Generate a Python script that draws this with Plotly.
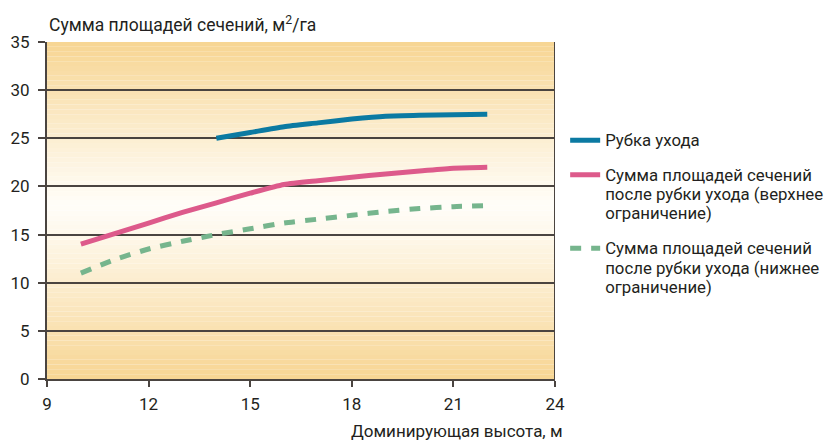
import plotly.graph_objects as go

# Data
x_blue = [14, 15, 16, 17, 18, 19, 20, 21, 22]
y_blue = [25.0, 25.6, 26.2, 26.6, 27.0, 27.3, 27.4, 27.45, 27.5]

x_pink = [10, 11, 12, 13, 14, 15, 16, 17, 18, 19, 20, 21, 22]
y_pink = [14.0, 15.1, 16.2, 17.3, 18.3, 19.3, 20.2, 20.6, 20.95, 21.3, 21.6, 21.9, 22.0]

x_green = [10, 11, 12, 13, 14, 15, 16, 17, 18, 19, 20, 21, 22]
y_green = [11.0, 12.4, 13.5, 14.3, 15.0, 15.6, 16.2, 16.6, 17.0, 17.4, 17.7, 17.9, 18.0]

name_lines = [["Рубка ухода"],
              ["Сумма площадей сечений", "после рубки ухода (верхнее", "ограничение)"],
              ["Сумма площадей сечений", "после рубки ухода (нижнее", "ограничение)"]]

x_ticks = [9, 12, 15, 18, 21, 24]
y_ticks = [0, 5, 10, 15, 20, 25, 30, 35]

FONT = "Roboto"
TXT = "#231f20"
LEG_GLYPH = 16.8


def legend_name(lines):
    return "<br>".join('<span style="font-size:%spx">%s</span>' % (LEG_GLYPH, s) for s in lines)


fig = go.Figure()
fig.add_trace(go.Scatter(x=x_blue, y=y_blue, mode="lines", name=legend_name(name_lines[0]),
                         legendgroup="a",
                         line=dict(color="#0b7aa2", width=5, shape="spline", smoothing=0.6)))
fig.add_trace(go.Scatter(x=x_pink, y=y_pink, mode="lines", name=legend_name(name_lines[1]),
                         legendgroup="b",
                         line=dict(color="#dd5a8b", width=5, shape="spline", smoothing=0.6)))
fig.add_trace(go.Scatter(x=x_green, y=y_green, mode="lines", name=legend_name(name_lines[2]),
                         legendgroup="c",
                         line=dict(color="#76b58d", width=5, dash="11px,10px", shape="spline",
                                   smoothing=0.6)))

# gradient background strips
shapes = []
n = 70
top_c = (247, 213, 146)
mid_c = (255, 253, 248)
center = 18.0
for i in range(n):
    y0 = 35 * i / n
    y1 = 35 * (i + 1) / n
    yc = (y0 + y1) / 2
    if yc < center:
        t = (center - yc) / center
    else:
        t = (yc - center) / (35 - center)
    t = t ** 1.1
    c = tuple(int(round(mid_c[k] + (top_c[k] - mid_c[k]) * t)) for k in range(3))
    shapes.append(dict(type="rect", xref="x", yref="y", x0=9, x1=24, y0=y0, y1=y1,
                       fillcolor="rgb(%d,%d,%d)" % c, line=dict(width=0), layer="below"))
shapes.append(dict(type="line", xref="x", yref="y", x0=24, x1=24, y0=0, y1=35,
                   line=dict(color="#4a4440", width=2), layer="above"))

fig.update_layout(
    width=830, height=441,
    margin=dict(l=47, r=275, t=42, b=62, autoexpand=False),
    paper_bgcolor="white", plot_bgcolor="rgba(0,0,0,0)",
    font=dict(family=FONT, size=17, color=TXT),
    shapes=shapes,
    showlegend=True,
    legend=dict(x=1.02, y=0.757, xanchor="left", yanchor="top", valign="top",
                font=dict(family=FONT, size=15, color=TXT),
                tracegroupgap=12, itemwidth=30, bgcolor="rgba(0,0,0,0)"),
    annotations=[
        dict(text="Сумма площадей сечений, м<sup>2</sup>/га", xref="paper", yref="paper",
             x=0, y=1.0, xanchor="left", yanchor="bottom", yshift=5, showarrow=False,
             font=dict(family=FONT, size=17.5, color=TXT)),
        dict(text="Доминирующая высота, м", xref="paper", yref="paper",
             x=1.0, y=0, xanchor="right", yanchor="top", xshift=10, yshift=-40,
             showarrow=False, font=dict(family=FONT, size=17, color=TXT)),
    ],
)
fig.update_xaxes(range=[9, 24], tickvals=x_ticks, ticks="outside", ticklen=6, tickwidth=1.5,
                 tickcolor="#4a4440", showgrid=False, showline=True, linecolor="#4a4440",
                 linewidth=2, zeroline=False, tickfont=dict(size=17), ticklabelstandoff=3)
fig.update_yaxes(range=[0, 35], tickvals=y_ticks, ticks="outside", ticklen=7, tickwidth=1.5,
                 tickcolor="#4a4440", showgrid=True, gridcolor="#4a4440", gridwidth=1.5,
                 showline=True, linecolor="#4a4440", linewidth=2, zeroline=False,
                 tickfont=dict(size=17), ticklabelstandoff=5)

fig.write_html("out.html")
